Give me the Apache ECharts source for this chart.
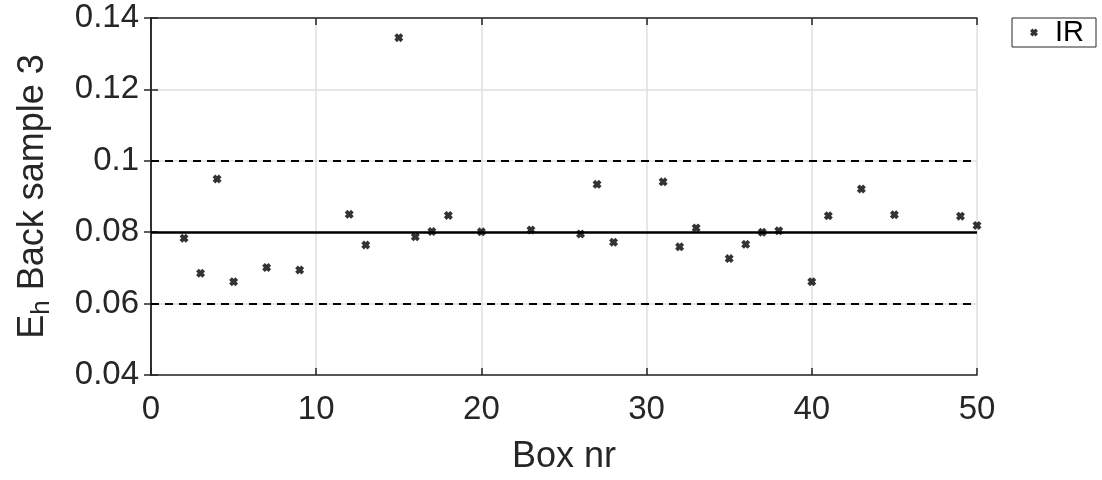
<!DOCTYPE html>
<html>
<head>
<meta charset="utf-8">
<script src="https://cdn.jsdelivr.net/npm/echarts@6/dist/echarts.min.js"></script>
<style>
html,body{margin:0;padding:0;background:#fff;}
#chart{width:1102px;height:480px;}
</style>
</head>
<body>
<div id="chart"></div>
<script>
var boxNr = [2, 3, 4, 5, 7, 9, 12, 13, 15, 16, 17, 18, 20, 23, 26, 27, 28, 31, 32, 33, 35, 36, 37, 38, 40, 41, 43, 45, 49, 50];
var irVals = [0.0783, 0.0685, 0.0949, 0.0661, 0.0701, 0.0694, 0.0850, 0.0764, 0.1345, 0.0787, 0.0802,
              0.0847, 0.0801, 0.0806, 0.0795, 0.0934, 0.0772, 0.0941, 0.0759, 0.0812, 0.0726,
              0.0766, 0.0800, 0.0804, 0.0661, 0.0846, 0.0921, 0.0849, 0.0845, 0.0819];
var meanVal = 0.08;
var limits = [0.06, 0.10];
var xTicks = [0, 10, 20, 30, 40, 50];
var yTicks = [0.04, 0.06, 0.08, 0.1, 0.12, 0.14];

var cross = 'path://M0,3L3,0L5,2L7,0L10,3L8,5L10,7L7,10L5,8L3,10L0,7L2,5Z';
var axisCol = '#262626';
var font = 'Liberation Sans, Arial, sans-serif';

var pts = [];
for (var i = 0; i < boxNr.length; i++) pts.push([boxNr[i], irVals[i]]);

var chart = echarts.init(document.getElementById('chart'));
var option = {
    animation: false,
    backgroundColor: '#fff',
    grid: {left: 151, right: 125, top: 18, bottom: 105},
    legend: {
        data: [{name: 'IR', icon: cross}],
        left: 1012, top: 18,
        orient: 'vertical',
        itemWidth: 8, itemHeight: 8, itemGap: 0,
        padding: [0, 12, 0, 18],
        borderColor: axisCol, borderWidth: 1,
        textStyle: {fontSize: 29, color: '#000', fontFamily: font, padding: [0, 0, 0, 12]}
    },
    xAxis: [{
        type: 'value', min: 0, max: 50, interval: 10,
        name: 'Box nr', nameLocation: 'middle', nameGap: 64,
        nameTextStyle: {fontSize: 36, color: axisCol, fontFamily: font},
        axisLine: {lineStyle: {color: axisCol, width: 1.5}},
        axisTick: {inside: true, length: 7, lineStyle: {color: axisCol, width: 1.5}},
        axisLabel: {fontSize: 33, color: axisCol, margin: 18, fontFamily: font},
        splitLine: {show: true, lineStyle: {color: '#dfdfdf', width: 1.5}}
    }, {
        type: 'value', min: 0, max: 50, interval: 10, position: 'top',
        axisLine: {show: true, lineStyle: {color: axisCol, width: 1.5}},
        axisTick: {show: true, inside: true, length: 7, lineStyle: {color: axisCol, width: 1.5}},
        axisLabel: {show: false}, splitLine: {show: false}
    }],
    yAxis: [{
        type: 'value', min: 0.04, max: 0.14, interval: 0.02,
        name: '{e|E}{s|h}{n| Back sample 3}', nameLocation: 'middle', nameGap: 96,
        nameRotate: 90,
        nameTextStyle: {
            color: axisCol, fontFamily: font,
            rich: {
                e: {fontSize: 36, color: axisCol, fontFamily: font},
                s: {fontSize: 26, color: axisCol, fontFamily: font, padding: [18, 0, 0, 0]},
                n: {fontSize: 36, color: axisCol, fontFamily: font}
            }
        },
        axisLine: {lineStyle: {color: axisCol, width: 1.5}},
        axisTick: {inside: true, length: 7, lineStyle: {color: axisCol, width: 1.5}},
        axisLabel: {fontSize: 33, color: axisCol, margin: 12, fontFamily: font,
            formatter: function (v) { return String(+v.toFixed(2)); }},
        splitLine: {show: true, lineStyle: {color: '#dfdfdf', width: 1.5}}
    }, {
        type: 'value', min: 0.04, max: 0.14, interval: 0.02, position: 'right',
        axisLine: {show: true, lineStyle: {color: axisCol, width: 1.5}},
        axisTick: {show: true, inside: true, length: 7, lineStyle: {color: axisCol, width: 1.5}},
        axisLabel: {show: false}, splitLine: {show: false}
    }],
    series: [{
        name: 'IR',
        type: 'scatter',
        symbol: cross,
        symbolSize: 9,
        itemStyle: {color: '#000'},
        data: pts,
        z: 5,
        markLine: {
            silent: true, symbol: 'none',
            label: {show: false},
            data: [
                {yAxis: meanVal, lineStyle: {color: '#000', width: 2.5, type: 'solid'}},
                {yAxis: limits[0], lineStyle: {color: '#000', width: 2, type: [8, 6]}},
                {yAxis: limits[1], lineStyle: {color: '#000', width: 2, type: [8, 6]}}
            ]
        }
    }]
};
chart.setOption(option);
</script>
</body>
</html>
